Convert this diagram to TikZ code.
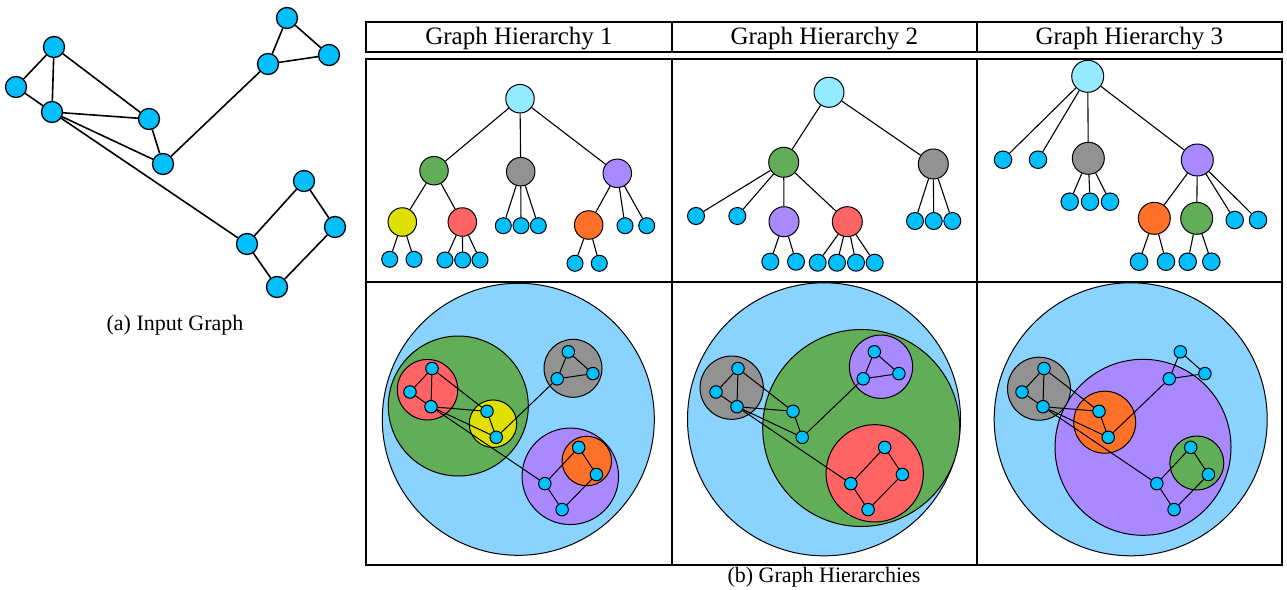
\documentclass[tikz,border=0pt]{standalone}
\usepackage{fontspec}
\setmainfont{Liberation Serif}
\usepackage{tikz}

\definecolor{nodeblue}{RGB}{0,191,255}
\definecolor{rootcyan}{RGB}{148,235,255}
\definecolor{outerblue}{RGB}{138,211,255}
\definecolor{cgreen}{RGB}{98,173,87}
\definecolor{cgray}{RGB}{146,146,146}
\definecolor{cpurple}{RGB}{170,136,255}
\definecolor{cyellow}{RGB}{224,224,0}
\definecolor{cred}{RGB}{255,99,99}
\definecolor{corange}{RGB}{255,112,40}

\tikzset{
	inode/.style={circle, draw, line width=1.3pt, fill=nodeblue, inner sep=0pt, minimum size=21pt},
	iedge/.style={line width=1.6pt},
	tnode/.style={circle, draw, line width=1pt, inner sep=0pt},
	tedge/.style={line width=1.1pt},
	cluster/.style={circle, draw, line width=1pt, inner sep=0pt},
	gnode/.style={circle, draw, line width=1pt, fill=nodeblue, inner sep=0pt, minimum size=12.5pt},
	gedge/.style={line width=1pt},
	tline/.style={line width=2pt},
	headtext/.style={anchor=base, font=\fontsize{25}{30}\selectfont},
	captext/.style={anchor=base, font=\fontsize{22}{26}\selectfont}
}

\begin{document}
\begin{tikzpicture}[x=1pt, y=-1pt]
				\useasboundingbox (0,0) rectangle (1287,589);
				% Input graph:
				\node[inode] (in1) at (54,47){};
				\node[inode] (in2) at (16,87){};
				\node[inode] (in3) at (52,112){};
				\node[inode] (in4) at (149,119){};
				\node[inode] (in5) at (163,164){};
				\node[inode] (in6) at (268,64){};
				\node[inode] (in7) at (287,18){};
				\node[inode] (in8) at (329,55){};
				\node[inode] (in9) at (304,181){};
				\node[inode] (in10) at (335,227){};
				\node[inode] (in11) at (247,244){};
				\node[inode] (in12) at (277,287){};
				\draw[iedge] (in1) -- (in2) (in1) -- (in3) (in1) -- (in4) (in2) -- (in3);
				\draw[iedge] (in3) -- (in4) (in3) -- (in5) (in4) -- (in5) (in5) -- (in6);
				\draw[iedge] (in6) -- (in7) (in7) -- (in8) (in6) -- (in8) (in3) -- (in11);
				\draw[iedge] (in11) -- (in9) (in9) -- (in10) (in10) -- (in12) (in12) -- (in11);
				\node[captext] (capa) at (175,330){(a) Input Graph};

				% Table:
				\draw[tline] (366,22.3) rectangle (1282,51.7);
				\draw[tline] (672,22.3) -- (672,51.7) (976.7,22.3) -- (976.7,51.7);
				\draw[tline] (366,58.7) rectangle (1282,565.3);
				\draw[tline] (672,58.7) -- (672,565.3) (976.7,58.7) -- (976.7,565.3);
				\draw[tline] (366,281.5) -- (1282,281.5);
				\node[headtext] (head1) at (519,44.3){Graph Hierarchy 1};
				\node[headtext] (head2) at (824.3,44.3){Graph Hierarchy 2};
				\node[headtext] (head3) at (1129.3,44.3){Graph Hierarchy 3};
				\node[captext] (capb) at (824,582){(b) Graph Hierarchies};

				% Tree 1:
				\begin{scope}[hub/.style={tnode, minimum size=28.5pt}, tleaf/.style={tnode, fill=nodeblue, minimum size=16pt}]
				\node[hub, fill=rootcyan] (t1root) at (520,98.7){};
				\node[hub, fill=cgreen] (t1green) at (434,170.7){};
				\node[hub, fill=cgray] (t1gray) at (520.7,171.7){};
				\node[hub, fill=cpurple] (t1purple) at (617.3,173.3){};
				\node[hub, fill=cyellow] (t1yellow) at (402.3,222){};
				\node[hub, fill=cred] (t1red) at (462.3,222){};
				\node[hub, fill=corange] (t1orange) at (588.7,225){};
				\node[tleaf] (t1l1) at (389.7,259.3){};
				\node[tleaf] (t1l2) at (414,259.3){};
				\node[tleaf] (t1l3) at (445,260){};
				\node[tleaf] (t1l4) at (462.7,260){};
				\node[tleaf] (t1l5) at (480,260){};
				\node[tleaf] (t1l6) at (503.3,225.7){};
				\node[tleaf] (t1l7) at (521,225.7){};
				\node[tleaf] (t1l8) at (538.3,225.7){};
				\node[tleaf] (t1l9) at (625,225.7){};
				\node[tleaf] (t1l10) at (646.7,225.7){};
				\node[tleaf] (t1l11) at (575,263.3){};
				\node[tleaf] (t1l12) at (599.3,263.3){};
				\draw[tedge] (t1root) -- (t1green) (t1root) -- (t1gray) (t1root) -- (t1purple);
				\draw[tedge] (t1green) -- (t1yellow) (t1green) -- (t1red) (t1purple) -- (t1orange);
				\draw[tedge] (t1yellow) -- (t1l1) (t1yellow) -- (t1l2) (t1red) -- (t1l3) (t1red) -- (t1l4) (t1red) -- (t1l5);
				\draw[tedge] (t1gray) -- (t1l6) (t1gray) -- (t1l7) (t1gray) -- (t1l8);
				\draw[tedge] (t1purple) -- (t1l9) (t1purple) -- (t1l10) (t1orange) -- (t1l11) (t1orange) -- (t1l12);
				\end{scope}

				% Tree 2:
				\begin{scope}[hub/.style={tnode, minimum size=30pt}, tleaf/.style={tnode, fill=nodeblue, minimum size=17pt}]
				\node[hub, fill=rootcyan] (t2root) at (829,92.3){};
				\node[hub, fill=cgreen] (t2green) at (783.7,162.3){};
				\node[hub, fill=cgray] (t2gray) at (933.3,164){};
				\node[hub, fill=cpurple] (t2purple) at (784,221.7){};
				\node[hub, fill=cred] (t2red) at (847.3,221.7){};
				\node[tleaf] (t2l1) at (696,216){};
				\node[tleaf] (t2l2) at (737.3,216){};
				\node[tleaf] (t2l3) at (915,221){};
				\node[tleaf] (t2l4) at (933.7,221){};
				\node[tleaf] (t2l5) at (952.3,221){};
				\node[tleaf] (t2l6) at (770.3,261.7){};
				\node[tleaf] (t2l7) at (796,261.7){};
				\node[tleaf] (t2l8) at (817.7,262.7){};
				\node[tleaf] (t2l9) at (837,262.7){};
				\node[tleaf] (t2l10) at (856,262.7){};
				\node[tleaf] (t2l11) at (874.7,262.7){};
				\draw[tedge] (t2root) -- (t2green) (t2root) -- (t2gray);
				\draw[tedge] (t2green) -- (t2l1) (t2green) -- (t2l2) (t2green) -- (t2purple) (t2green) -- (t2red);
				\draw[tedge] (t2gray) -- (t2l3) (t2gray) -- (t2l4) (t2gray) -- (t2l5);
				\draw[tedge] (t2purple) -- (t2l6) (t2purple) -- (t2l7);
				\draw[tedge] (t2red) -- (t2l8) (t2red) -- (t2l9) (t2red) -- (t2l10) (t2red) -- (t2l11);
				\end{scope}

				% Tree 3:
				\begin{scope}[hub/.style={tnode, minimum size=32pt}, tleaf/.style={tnode, fill=nodeblue, minimum size=17.5pt}]
				\node[hub, fill=rootcyan] (t3root) at (1087.7,76.3){};
				\node[hub, fill=cgray] (t3gray) at (1088.3,158.3){};
				\node[hub, fill=cpurple] (t3purple) at (1197.3,160){};
				\node[hub, fill=corange] (t3orange) at (1154.3,218.3){};
				\node[hub, fill=cgreen] (t3green) at (1196.7,218.3){};
				\node[tleaf] (t3l1) at (1003,159.7){};
				\node[tleaf] (t3l2) at (1038,159.7){};
				\node[tleaf] (t3l3) at (1069.7,201.7){};
				\node[tleaf] (t3l4) at (1090,201.7){};
				\node[tleaf] (t3l5) at (1110,201.7){};
				\node[tleaf] (t3l6) at (1234.7,220){};
				\node[tleaf] (t3l7) at (1258,220){};
				\node[tleaf] (t3l8) at (1139,261.7){};
				\node[tleaf] (t3l9) at (1166,261.7){};
				\node[tleaf] (t3l10) at (1187.7,261.7){};
				\node[tleaf] (t3l11) at (1211.3,261.7){};
				\draw[tedge] (t3root) -- (t3l1) (t3root) -- (t3l2) (t3root) -- (t3gray) (t3root) -- (t3purple);
				\draw[tedge] (t3gray) -- (t3l3) (t3gray) -- (t3l4) (t3gray) -- (t3l5);
				\draw[tedge] (t3purple) -- (t3orange) (t3purple) -- (t3green) (t3purple) -- (t3l6) (t3purple) -- (t3l7);
				\draw[tedge] (t3orange) -- (t3l8) (t3orange) -- (t3l9) (t3green) -- (t3l10) (t3green) -- (t3l11);
				\end{scope}

				% Nested view 1:
				\node[cluster, fill=outerblue, minimum size=272pt] (h1all) at (518.3,419.3){};
				\node[cluster, fill=cgreen, minimum size=140pt] (h1green) at (458.3,406){};
				\node[cluster, fill=cred, minimum size=60.5pt] (h1red) at (427.5,389.7){};
				\node[cluster, fill=cyellow, minimum size=47.5pt] (h1yellow) at (493,423.7){};
				\node[cluster, fill=cgray, minimum size=58pt] (h1gray) at (573,368.3){};
				\node[cluster, fill=cpurple, minimum size=96.5pt] (h1purple) at (570.3,476.3){};
				\node[cluster, fill=corange, minimum size=49.5pt] (h1orange) at (586.8,461){};
				\node[gnode] (h1a) at (432,368.5){};
				\node[gnode] (h1b) at (410,392){};
				\node[gnode] (h1c) at (431,406.7){};
				\node[gnode] (h1d) at (487,411.3){};
				\node[gnode] (h1e) at (496.2,437.3){};
				\node[gnode] (h1f) at (557.2,378.8){};
				\node[gnode] (h1g) at (568.3,351.8){};
				\node[gnode] (h1h) at (592.9,373.6){};
				\node[gnode] (h1i) at (578.7,447.4){};
				\node[gnode] (h1j) at (596.4,474.5){};
				\node[gnode] (h1k) at (544.8,483.6){};
				\node[gnode] (h1l) at (562.1,509.6){};
				\draw[gedge] (h1a) -- (h1b) (h1a) -- (h1c) (h1a) -- (h1d) (h1b) -- (h1c);
				\draw[gedge] (h1c) -- (h1d) (h1c) -- (h1e) (h1d) -- (h1e) (h1e) -- (h1f);
				\draw[gedge] (h1f) -- (h1g) (h1g) -- (h1h) (h1f) -- (h1h) (h1c) -- (h1k);
				\draw[gedge] (h1k) -- (h1i) (h1i) -- (h1j) (h1j) -- (h1l) (h1l) -- (h1k);

				% Nested view 2:
				\node[cluster, fill=outerblue, minimum size=273pt] (h2all) at (824,419.3){};
				\node[cluster, fill=cgreen, minimum size=197pt] (h2green) at (861.2,428){};
				\node[cluster, fill=cgray, minimum size=63.3pt] (h2gray) at (731.7,387.7){};
				\node[cluster, fill=cpurple, minimum size=63.3pt] (h2purple) at (881,366.7){};
				\node[cluster, fill=cred, minimum size=97.3pt] (h2red) at (874.7,473.3){};
				\node[gnode] (h2a) at (738,368.5){};
				\node[gnode] (h2b) at (716,392){};
				\node[gnode] (h2c) at (737,406.7){};
				\node[gnode] (h2d) at (793,411.3){};
				\node[gnode] (h2e) at (802.2,437.3){};
				\node[gnode] (h2f) at (863.2,378.8){};
				\node[gnode] (h2g) at (874.3,351.8){};
				\node[gnode] (h2h) at (898.9,373.6){};
				\node[gnode] (h2i) at (884.7,447.4){};
				\node[gnode] (h2j) at (902.4,474.5){};
				\node[gnode] (h2k) at (850.8,483.6){};
				\node[gnode] (h2l) at (868.1,509.6){};
				\draw[gedge] (h2a) -- (h2b) (h2a) -- (h2c) (h2a) -- (h2d) (h2b) -- (h2c);
				\draw[gedge] (h2c) -- (h2d) (h2c) -- (h2e) (h2d) -- (h2e) (h2e) -- (h2f);
				\draw[gedge] (h2f) -- (h2g) (h2g) -- (h2h) (h2f) -- (h2h) (h2c) -- (h2k);
				\draw[gedge] (h2k) -- (h2i) (h2i) -- (h2j) (h2j) -- (h2l) (h2l) -- (h2k);

				% Nested view 3:
				\node[cluster, fill=outerblue, minimum size=273pt] (h3all) at (1130.7,419.3){};
				\node[cluster, fill=cpurple, minimum size=176pt] (h3purple) at (1143,447.3){};
				\node[cluster, fill=cgray, minimum size=63pt] (h3gray) at (1039,388.7){};
				\node[cluster, fill=corange, minimum size=62pt] (h3orange) at (1104.7,422.2){};
				\node[cluster, fill=cgreen, minimum size=54pt] (h3green) at (1196.8,463){};
				\node[gnode] (h3a) at (1044,368.5){};
				\node[gnode] (h3b) at (1022,392){};
				\node[gnode] (h3c) at (1043,406.7){};
				\node[gnode] (h3d) at (1099,411.3){};
				\node[gnode] (h3e) at (1108.2,437.3){};
				\node[gnode] (h3f) at (1169.2,378.8){};
				\node[gnode] (h3g) at (1180.3,351.8){};
				\node[gnode] (h3h) at (1204.9,373.6){};
				\node[gnode] (h3i) at (1190.7,447.4){};
				\node[gnode] (h3j) at (1208.4,474.5){};
				\node[gnode] (h3k) at (1156.8,483.6){};
				\node[gnode] (h3l) at (1174.1,509.6){};
				\draw[gedge] (h3a) -- (h3b) (h3a) -- (h3c) (h3a) -- (h3d) (h3b) -- (h3c);
				\draw[gedge] (h3c) -- (h3d) (h3c) -- (h3e) (h3d) -- (h3e) (h3e) -- (h3f);
				\draw[gedge] (h3f) -- (h3g) (h3g) -- (h3h) (h3f) -- (h3h) (h3c) -- (h3k);
				\draw[gedge] (h3k) -- (h3i) (h3i) -- (h3j) (h3j) -- (h3l) (h3l) -- (h3k);
			\end{tikzpicture}
\end{document}
